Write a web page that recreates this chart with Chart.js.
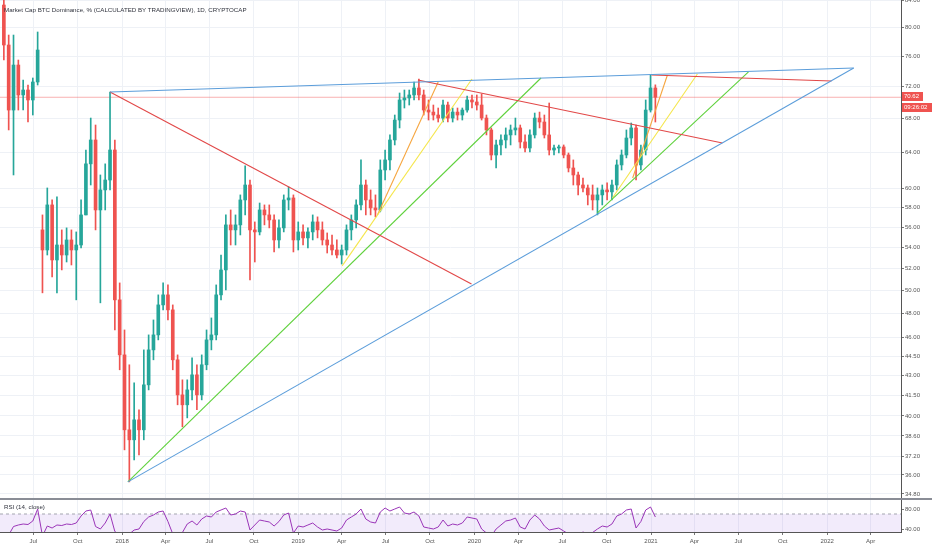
<!DOCTYPE html>
<html>
<head>
<meta charset="utf-8">
<title>Market Cap BTC Dominance</title>
<script src="https://cdn.jsdelivr.net/npm/chart.js@4.4.1/dist/chart.umd.min.js"></script>
<style>
  html, body { margin: 0; padding: 0; background: #ffffff; }
  #wrap { position: relative; width: 932px; height: 550px; overflow: hidden; }
  #chart { position: absolute; left: 0; top: 0; }
  .caption {
    position: absolute; left: 4px;
    font-family: "Liberation Sans", Arial, sans-serif;
    font-size: 6.2px; line-height: 8px; color: #30333d; white-space: nowrap;
  }
</style>
</head>
<body>
<div id="wrap">
  <canvas id="chart" width="932" height="550"></canvas>
  <div class="caption" style="top:6px">Market Cap BTC Dominance, % (CALCULATED BY TRADINGVIEW), 1D, CRYPTOCAP</div>
  <div class="caption" style="top:503px">RSI (14, close)</div>
</div>
<script>
// Candles, one candle per 10 days starting at FIRST_CANDLE
const FIRST_CANDLE = '2017-05-01';
const CANDLE_STEP = 10;

const openV = [
  83.25, 77.52, 69.03, 74.80, 70.91, 71.54, 70.28, 72.57, 55.74, 53.78,
  58.28, 52.83, 54.26, 53.30, 54.75, 53.78, 54.26, 57.25, 62.71, 65.44,
  57.76, 59.86, 60.93, 64.28, 49.20, 44.60, 39.02, 38.33, 39.72, 39.02,
  42.28, 45.00, 46.22, 48.76, 49.64, 48.33, 44.21, 41.53, 40.80, 41.90,
  43.04, 41.53, 43.82, 45.81, 46.22, 49.64, 51.90, 56.24, 55.74, 56.24,
  58.80, 60.39, 55.74, 55.54, 57.76, 57.25, 56.74, 54.75, 55.94, 58.80,
  59.01, 54.75, 55.54, 54.95, 55.54, 56.54, 55.74, 54.75, 54.26, 53.78,
  53.30, 53.78, 55.74, 56.74, 58.28, 60.39, 58.80, 57.97, 57.76, 62.03,
  63.15, 65.44, 67.81, 70.28, 70.53, 70.91, 71.80, 70.91, 69.03, 68.78,
  68.42, 68.05, 69.65, 68.05, 68.78, 68.42, 69.03, 70.28, 70.03, 69.65,
  68.05, 66.62, 63.71, 64.86, 65.44, 66.03, 66.62, 66.86, 65.21, 64.51,
  66.03, 68.05, 67.57, 66.03, 64.28, 64.51, 64.63, 63.71, 62.25, 61.48,
  60.39, 60.07, 59.33, 58.80, 59.33, 59.86, 59.65, 60.39, 62.59, 63.71,
  65.67, 66.86, 62.59, 64.28, 69.03, 71.80
];
const highV = [
  85.00, 78.91, 78.91, 75.47, 72.83, 72.18, 73.09, 79.34, 57.25, 60.07,
  58.80, 59.12, 55.74, 55.94, 55.74, 55.54, 58.80, 64.28, 68.05, 67.21,
  61.48, 62.71, 71.28, 65.44, 50.71, 46.63, 43.82, 42.43, 40.44, 45.00,
  46.22, 47.47, 49.64, 50.71, 50.53, 48.76, 44.60, 42.66, 42.66, 44.37,
  43.82, 44.60, 46.63, 47.64, 50.53, 53.30, 57.25, 57.76, 57.25, 59.33,
  62.48, 60.93, 56.54, 58.48, 58.28, 58.28, 57.25, 56.74, 59.33, 60.18,
  59.33, 56.54, 56.24, 55.94, 57.25, 57.05, 56.54, 55.44, 55.24, 54.75,
  54.26, 56.24, 57.25, 58.80, 63.15, 60.93, 59.86, 59.33, 63.15, 64.28,
  66.03, 68.42, 71.16, 71.54, 71.54, 72.57, 72.96, 71.54, 70.28, 69.65,
  69.28, 70.28, 70.03, 69.28, 69.28, 69.28, 70.78, 70.91, 70.91, 71.03,
  68.42, 66.86, 65.44, 66.03, 66.86, 67.21, 68.05, 67.21, 66.03, 66.62,
  68.66, 68.78, 68.42, 69.90, 64.86, 64.86, 64.86, 63.94, 63.15, 61.81,
  61.15, 60.39, 60.39, 60.07, 60.39, 60.61, 60.93, 63.15, 64.28, 66.62,
  67.45, 67.21, 64.86, 70.28, 73.48, 72.20
];
const lowV = [
  75.47, 66.62, 61.48, 69.03, 69.03, 67.57, 68.42, 72.18, 49.82, 53.30,
  51.26, 49.82, 51.90, 52.64, 52.36, 49.20, 53.97, 57.25, 60.39, 55.74,
  48.94, 57.76, 59.86, 46.63, 43.43, 37.65, 35.56, 36.98, 37.31, 38.33,
  41.90, 44.21, 45.81, 48.33, 47.47, 43.43, 40.80, 39.23, 39.86, 41.16,
  40.44, 41.16, 43.43, 45.00, 45.81, 49.20, 50.08, 54.26, 54.26, 55.24,
  57.25, 50.98, 52.64, 55.24, 56.24, 55.94, 53.59, 53.97, 55.54, 57.76,
  53.59, 53.78, 54.26, 53.97, 54.75, 54.95, 54.26, 53.49, 53.30, 53.02,
  52.45, 53.30, 54.75, 55.94, 57.76, 57.25, 57.25, 57.05, 57.56, 60.93,
  62.03, 64.86, 66.86, 69.28, 69.65, 70.28, 70.28, 68.42, 67.81, 67.81,
  67.57, 67.57, 67.57, 67.57, 67.81, 67.81, 68.78, 69.28, 69.03, 67.81,
  66.03, 63.15, 62.25, 63.71, 64.51, 64.86, 66.03, 64.51, 64.05, 64.05,
  65.67, 66.86, 65.67, 63.71, 63.71, 63.94, 63.38, 61.81, 60.39, 59.33,
  59.65, 58.28, 57.76, 57.25, 58.28, 58.80, 58.80, 59.86, 62.03, 63.38,
  64.86, 60.93, 62.03, 63.71, 68.78, 67.57
];
const closeV = [
  77.52, 69.03, 74.80, 70.91, 71.54, 70.28, 72.57, 76.83, 53.78, 58.28,
  52.83, 54.26, 53.30, 54.75, 53.78, 54.26, 57.25, 62.71, 65.44, 57.76,
  59.86, 60.93, 64.28, 49.20, 44.60, 39.02, 38.33, 39.72, 39.02, 42.28,
  45.00, 46.22, 48.76, 49.64, 48.33, 44.21, 41.53, 40.80, 41.90, 43.04,
  41.53, 43.82, 45.81, 46.22, 49.64, 51.90, 56.24, 55.74, 56.24, 58.80,
  60.39, 55.74, 55.54, 57.76, 57.25, 56.74, 54.75, 55.94, 58.80, 59.01,
  54.75, 55.54, 54.95, 55.54, 56.54, 55.74, 54.75, 54.26, 53.78, 53.30,
  53.78, 55.74, 56.74, 58.28, 60.39, 58.80, 57.97, 57.76, 62.03, 63.15,
  65.44, 67.81, 70.28, 70.53, 70.91, 71.80, 70.91, 69.03, 68.78, 68.42,
  68.05, 69.65, 68.05, 68.78, 68.42, 69.03, 70.28, 70.03, 69.65, 68.05,
  66.62, 63.71, 64.86, 65.44, 66.03, 66.62, 66.86, 65.21, 64.51, 66.03,
  68.05, 67.57, 66.03, 64.28, 64.51, 64.63, 63.71, 62.25, 61.48, 60.39,
  60.07, 59.33, 58.80, 59.33, 59.86, 59.65, 60.39, 62.59, 63.71, 65.67,
  66.86, 62.59, 64.28, 69.03, 71.80, 70.62
];
// RSI(14) at the same dates
const rsiV = [
  30, 28, 45, 48, 50, 49, 56, 80, 26, 46,
  42, 48, 47, 50, 49, 52, 66, 76, 78, 45,
  40, 52, 70, 35, 28, 26, 30, 38, 40, 55,
  64, 68, 74, 76, 55, 30, 27, 33, 50, 56,
  48, 60, 66, 64, 74, 78, 82, 68, 70, 76,
  74, 38, 48, 58, 56, 54, 46, 55, 68, 72,
  32, 46, 44, 48, 52, 44, 38, 40, 38, 36,
  42, 58, 64, 70, 80, 60, 54, 52, 74, 82,
  76, 80, 84, 72, 70, 74, 66, 44, 42, 40,
  44, 58, 46, 50, 48, 52, 64, 62, 60, 40,
  32, 26, 40, 48, 56, 58, 62, 44, 40, 58,
  68, 60, 46, 38, 40, 42, 36, 30, 32, 28,
  34, 30, 33, 40, 46, 44, 50, 66, 70, 78,
  80, 42, 55, 78, 84, 64
];

const priceTicks = [84, 80, 76, 72, 68, 64, 60, 58, 56, 54, 52, 50, 48, 46, 44.5, 43, 41.5, 40, 38.6, 37.2, 36, 34.8];
const rsiTicks = [80, 40];
const timeTicks = [
  '2017-07-01', '2017-10-01', '2018-01-01', '2018-04-01', '2018-07-01', '2018-10-01',
  '2019-01-01', '2019-04-01', '2019-07-01', '2019-10-01', '2020-01-01', '2020-04-01',
  '2020-07-01', '2020-10-01', '2021-01-01', '2021-04-01', '2021-07-01', '2021-10-01',
  '2022-01-01', '2022-04-01'
];
const timeLabels = ['Jul', 'Oct', '2018', 'Apr', 'Jul', 'Oct', '2019', 'Apr', 'Jul', 'Oct',
  '2020', 'Apr', 'Jul', 'Oct', '2021', 'Apr', 'Jul', 'Oct', '2022', 'Apr'];

// drawn trend lines: [start date, start value, end date, end value]
const blueLines = [
  ['2017-12-07', 71.28, '2022-02-25', 74.40],
  ['2018-01-13', 35.56, '2022-02-25', 74.40]
];
const redLines = [
  ['2017-12-07', 71.28, '2019-12-26', 50.62],
  ['2019-09-06', 72.83, '2021-05-29', 65.09],
  ['2021-01-02', 73.48, '2022-01-10', 72.70]
];
const greenLines = [
  ['2018-01-13', 35.56, '2020-05-18', 73.09],
  ['2020-09-12', 57.45, '2021-07-22', 73.88]
];
const yellowLines = [
  ['2019-04-02', 52.27, '2019-12-27', 72.96],
  ['2020-10-13', 59.01, '2021-04-07', 73.61]
];
const orangeLines = [
  ['2019-06-14', 57.25, '2019-10-18', 72.57],
  ['2020-11-24', 61.15, '2021-02-04', 73.48]
];

const X_RANGE = ['2017-04-23', '2022-06-03'];
const PRICE_RANGE = [34.49, 84];
const RSI_RANGE = [34, 100];
const RSI_BAND = [70, 30];
const COUNTDOWN = '09:26:02';

// ---- helpers ----
const DAY0 = Date.UTC(2017, 0, 1);
function dayOf(iso) {
  return (Date.parse(iso) - DAY0) / 864e5;
}

const UP = '#26a69a';
const DOWN = '#ef5350';
const xMin = dayOf(X_RANGE[0]);
const xMax = dayOf(X_RANGE[1]);
const lastClose = closeV[closeV.length - 1];

const candleDays = closeV.map((_, i) => dayOf(FIRST_CANDLE) + i * CANDLE_STEP);
const candleColors = closeV.map((c, i) => (c >= openV[i] ? UP : DOWN));

function trendSets(lines, color) {
  return lines.map(l => ({
    type: 'line',
    data: [{ x: dayOf(l[0]), y: l[1] }, { x: dayOf(l[2]), y: l[3] }],
    yAxisID: 'yPrice',
    borderColor: color,
    borderWidth: 1.1,
    pointRadius: 0,
    order: 1
  }));
}

const datasets = [
  // candle wicks
  {
    type: 'bar',
    data: candleDays.map((d, i) => ({ x: d, y: [lowV[i], highV[i]] })),
    yAxisID: 'yPrice',
    backgroundColor: candleColors,
    barThickness: 1,
    grouped: false,
    order: 6
  },
  // candle bodies
  {
    type: 'bar',
    data: candleDays.map((d, i) => ({ x: d, y: [Math.min(openV[i], closeV[i]), Math.max(openV[i], closeV[i])] })),
    yAxisID: 'yPrice',
    backgroundColor: candleColors,
    barThickness: 3,
    minBarLength: 1,
    grouped: false,
    order: 5
  },
  // last price line
  {
    type: 'line',
    data: [{ x: xMin, y: lastClose }, { x: xMax, y: lastClose }],
    yAxisID: 'yPrice',
    borderColor: 'rgba(239, 83, 80, 0.45)',
    borderWidth: 1,
    pointRadius: 0,
    order: 8
  },
  ...trendSets(blueLines, '#5b9dda'),
  ...trendSets(redLines, '#e24848'),
  ...trendSets(greenLines, '#5fd13c'),
  ...trendSets(yellowLines, '#f5e64c'),
  ...trendSets(orangeLines, '#f6a640'),
  // RSI band (70 .. 30)
  {
    type: 'line',
    data: [{ x: xMin, y: RSI_BAND[0] }, { x: xMax, y: RSI_BAND[0] }],
    yAxisID: 'yRsi',
    borderColor: '#a3a6af',
    borderDash: [3, 3],
    borderWidth: 1,
    pointRadius: 0,
    fill: { value: RSI_BAND[1] },
    backgroundColor: 'rgba(150, 90, 220, 0.12)',
    order: 20
  },
  // RSI line
  {
    type: 'line',
    data: candleDays.map((d, i) => ({ x: d, y: rsiV[i] })),
    yAxisID: 'yRsi',
    borderColor: '#9a35b8',
    borderWidth: 1,
    pointRadius: 0,
    order: 2
  }
];

function fixY(scale) {
  scale.width = 31;
  scale.paddingTop = 0;
  scale.paddingBottom = 0;
}

// panel separator and the red last-price tags on the axis
const overlayPlugin = {
  id: 'overlay',
  afterDraw(chart) {
    const { ctx, chartArea, scales } = chart;
    const yR = scales.yRsi;
    const yP = scales.yPrice;
    ctx.save();
    ctx.fillStyle = '#8a8d96';
    ctx.fillRect(0, yR.top - 1, chart.width, 2);

    const py = Math.round(yP.getPixelForValue(lastClose));
    const left = chartArea.right + 1;
    ctx.fillStyle = '#ef5350';
    ctx.fillRect(left, py - 5, 21, 9);
    ctx.fillRect(left, py + 6, 31, 9);
    ctx.fillStyle = '#ffffff';
    ctx.font = '6px "Liberation Sans", Arial, sans-serif';
    ctx.textBaseline = 'middle';
    ctx.fillText(lastClose.toFixed(2), left + 2, py - 0.5);
    ctx.fillText(COUNTDOWN, left + 2, py + 10.5);
    ctx.restore();
  }
};

Chart.defaults.font.family = '"Liberation Sans", Arial, sans-serif';
Chart.defaults.font.size = 6;
Chart.defaults.color = '#555';

new Chart(document.getElementById('chart'), {
  type: 'bar',
  data: { datasets },
  options: {
    responsive: false,
    animation: false,
    layout: { padding: 0, autoPadding: false },
    plugins: {
      legend: { display: false },
      tooltip: { enabled: false },
      title: { display: false }
    },
    scales: {
      x: {
        type: 'linear',
        min: xMin,
        max: xMax,
        bounds: 'data',
        offset: false,
        afterBuildTicks: s => { s.ticks = timeTicks.map(t => ({ value: dayOf(t) })); },
        afterFit: s => { s.height = 18; s.paddingLeft = 0; s.paddingRight = 0; },
        ticks: {
          autoSkip: false,
          maxRotation: 0,
          padding: 3,
          callback: (v, i) => timeLabels[i]
        },
        grid: { color: '#eef1f6', tickColor: '#777', tickLength: 3, offset: false },
        border: { color: '#555' }
      },
      yPrice: {
        type: 'logarithmic',
        position: 'right',
        stack: 'panes',
        stackWeight: 499,
        min: PRICE_RANGE[0],
        max: PRICE_RANGE[1],
        bounds: 'data',
        beginAtZero: false,
        afterBuildTicks: s => { s.ticks = priceTicks.map(v => ({ value: v })); },
        afterFit: fixY,
        ticks: { autoSkip: false, padding: 1, callback: v => Number(v).toFixed(2) },
        grid: { color: '#eef1f6', tickColor: '#777', tickLength: 3 },
        border: { color: '#555' }
      },
      yRsi: {
        type: 'linear',
        position: 'right',
        stack: 'panes',
        stackWeight: 33,
        min: RSI_RANGE[0],
        max: RSI_RANGE[1],
        bounds: 'data',
        beginAtZero: false,
        afterBuildTicks: s => { s.ticks = rsiTicks.map(v => ({ value: v })); },
        afterFit: fixY,
        ticks: { autoSkip: false, padding: 1, callback: v => Number(v).toFixed(2) },
        grid: { drawOnChartArea: false, tickColor: '#777', tickLength: 3 },
        border: { color: '#555' }
      }
    }
  },
  plugins: [overlayPlugin]
});
</script>
</body>
</html>
